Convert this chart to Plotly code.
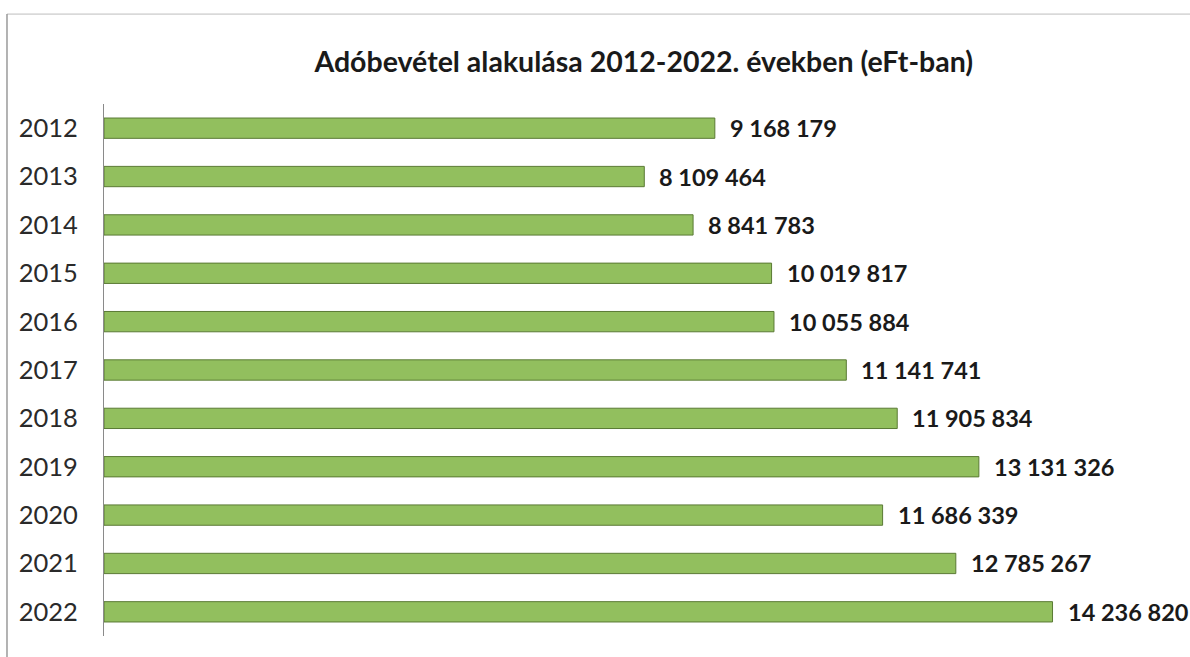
import plotly.graph_objects as go

years = ["2012", "2013", "2014", "2015", "2016", "2017", "2018", "2019", "2020", "2021", "2022"]
values = [9168179, 8109464, 8841783, 10019817, 10055884, 11141741, 11905834, 13131326, 11686339, 12785267, 14236820]
value_labels = ["9 168 179", "8 109 464", "8 841 783", "10 019 817", "10 055 884", "11 141 741",
                "11 905 834", "13 131 326", "11 686 339", "12 785 267", "14 236 820"]
title_text = "Adóbevétel alakulása 2012-2022. években (eFt-ban)"

FONT = "Lato"

fig = go.Figure()
fig.add_trace(go.Bar(
    y=years, x=values, orientation="h",
    marker=dict(color="#92bf5e", line=dict(color="#5a7a34", width=1)),
    width=0.42, hoverinfo="skip",
))

for i, (v, t) in enumerate(zip(values, value_labels)):
    fig.add_annotation(x=v, y=i, text=t, showarrow=False, xanchor="left", xshift=13,
                       font=dict(family=FONT, size=23.5, color="#1a1a1a", weight="bold"))

fig.update_layout(
    width=1190, height=657,
    paper_bgcolor="white", plot_bgcolor="white",
    margin=dict(l=104, r=20, t=104, b=21),
    showlegend=False,
    title=dict(text="<b>" + title_text + "</b>", x=0.541, xanchor="center", y=0.906, yanchor="middle",
               font=dict(family=FONT, size=28.5, color="#1a1a1a")),
    xaxis=dict(range=[0, 16000000], visible=False, fixedrange=True),
    yaxis=dict(type="category", categoryorder="array", categoryarray=years,
               range=[10.5, -0.5], showline=True, linecolor="#8a8a8a", linewidth=1,
               ticks="outside", ticklen=20, tickcolor="rgba(0,0,0,0)", showgrid=False,
               automargin=False,
               tickfont=dict(family=FONT, size=25.5, color="#2a2a2a")),
)

# outer chart border (left and top visible)
fig.add_shape(type="line", xref="paper", yref="paper", x0=-0.091, x1=1.2, y0=1.169, y1=1.169,
              line=dict(color="#bdbdbd", width=1))
fig.add_shape(type="line", xref="paper", yref="paper", x0=-0.091, x1=-0.091, y0=-0.2, y1=1.169,
              line=dict(color="#9a9a9a", width=1.5))

fig.write_html("out.html", config={"displayModeBar": False},
               post_script="document.body.style.margin='0';")
